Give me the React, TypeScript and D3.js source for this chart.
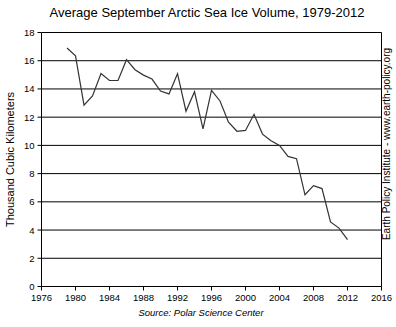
import React from "react";
import * as d3 from "d3";

const years = [1979,1980,1981,1982,1983,1984,1985,1986,1987,1988,1989,1990,1991,1992,1993,1994,1995,1996,1997,1998,1999,2000,2001,2002,2003,2004,2005,2006,2007,2008,2009,2010,2011,2012];
const volume = [16.9,16.35,12.85,13.5,15.1,14.6,14.6,16.07,15.36,14.98,14.7,13.85,13.65,15.08,12.42,13.8,11.17,13.9,13.15,11.65,11.0,11.06,12.2,10.8,10.33,10.0,9.22,9.06,6.5,7.15,6.94,4.57,4.14,3.32];
const xTicks = [1976,1980,1984,1988,1992,1996,2000,2004,2008,2012,2016];
const yTicks = [0,2,4,6,8,10,12,14,16,18];

const W = 396, H = 327;
const left = 41.5, right = 381.5, top = 32.5, bottom = 286.5;

export default function App() {
  const x = d3.scaleLinear().domain([1976, 2016]).range([left, right]);
  const y = d3.scaleLinear().domain([0, 18]).range([bottom, top]);
  const line = d3.line<number>().x((_, i) => x(years[i])).y((d) => y(d));
  const font = "Arial, 'Liberation Sans', sans-serif";
  return (
    <svg width={W} height={H} style={{ position: "absolute", left: 0, top: 0, background: "#fff" }} fontFamily={font}>
      <text x={207} y={17} textAnchor="middle" fontSize={13} fill="#000">Average  September Arctic Sea Ice Volume, 1979-2012</text>
      {yTicks.filter((t) => t > 0).map((t) => (
        <line key={t} x1={left} x2={right} y1={y(t)} y2={y(t)} stroke="#000" strokeWidth={1} />
      ))}
      <line x1={left} x2={left} y1={top} y2={bottom} stroke="#000" />
      <line x1={right} x2={right} y1={top} y2={bottom} stroke="#000" />
      <line x1={left} x2={right} y1={bottom} y2={bottom} stroke="#000" />
      {yTicks.map((t) => (
        <g key={t}>
          <line x1={left - 4} x2={left} y1={y(t)} y2={y(t)} stroke="#000" />
          <text x={left - 7} y={y(t) + 3.5} textAnchor="end" fontSize={9.5} fill="#000">{t}</text>
        </g>
      ))}
      {xTicks.map((t) => (
        <g key={t}>
          <line x1={x(t)} x2={x(t)} y1={bottom} y2={bottom + 4} stroke="#000" />
          <text x={x(t)} y={bottom + 14} textAnchor="middle" fontSize={9.5} fill="#000">{t}</text>
        </g>
      ))}
      <path d={line(volume) || ""} fill="none" stroke="#333" strokeWidth={1.2} />
      <text transform={`translate(14,${(top + bottom) / 2}) rotate(-90)`} textAnchor="middle" fontSize={11} fill="#000">Thousand Cubic Kilometers</text>
      <text x={201} y={316} textAnchor="middle" fontSize={9.5} fontStyle="italic" fill="#000">Source: Polar Science Center</text>
      <text transform={`translate(390,${144}) rotate(-90)`} textAnchor="middle" fontSize={10} fill="#000">Earth Policy Institute - www.earth-policy.org</text>
    </svg>
  );
}
